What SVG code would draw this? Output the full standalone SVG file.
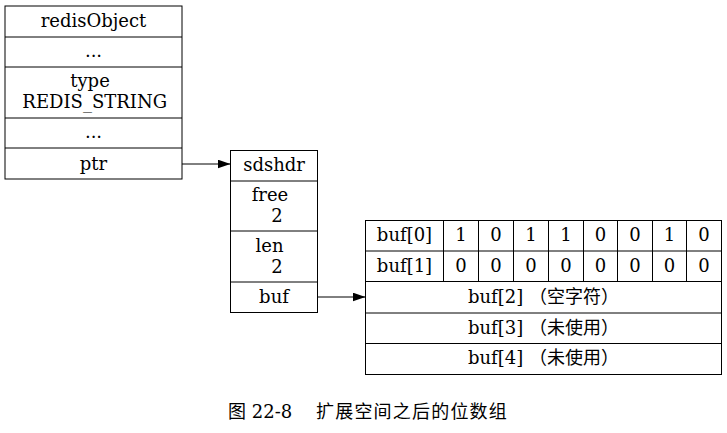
<svg xmlns="http://www.w3.org/2000/svg" width="727" height="433" viewBox="0 0 727 433">
<style>
.box{fill:#fff;stroke:#000;stroke-width:1}
.ln{stroke:#000;stroke-width:1;fill:none}
text{font-family:"DejaVu Serif","Noto Sans CJK SC",serif;font-size:18px;fill:#000}
.c{text-anchor:middle}
</style>
<defs>
<marker id="ah" viewBox="0 0 13 9" refX="13" refY="4.5" markerWidth="13" markerHeight="9" markerUnits="userSpaceOnUse" orient="auto">
<path d="M0,0 L13,4.5 L0,9 Z" fill="#000"/>
</marker>
</defs>
<rect width="727" height="433" fill="#fff"/>
<g id="redisObject">
<rect class="box" x="5" y="6" width="177" height="173"/>
<path class="ln" d="M5,37H182M5,67H182M5,118H182M5,148H182"/>
<text class="c" x="93.5" y="27">redisObject</text>
<text class="c" x="93.5" y="57">...</text>
<text class="c" x="90" y="87">type</text>
<text class="c" x="94.7" y="108">REDIS_STRING</text>
<text class="c" x="93.5" y="138">...</text>
<text class="c" x="93.5" y="169.5">ptr</text>
</g>
<g id="sdshdr">
<rect class="box" x="230.5" y="150.5" width="87" height="162"/>
<path class="ln" d="M230.5,181H317.5M230.5,231H317.5M230.5,282H317.5"/>
<text class="c" x="274" y="171">sdshdr</text>
<text class="c" x="270" y="201">free</text>
<text class="c" x="277" y="222">2</text>
<text class="c" x="269.5" y="251.5">len</text>
<text class="c" x="277" y="272.5">2</text>
<text class="c" x="274" y="303">buf</text>
</g>
<g id="buf">
<rect class="box" x="365.5" y="220.5" width="356" height="154"/>
<path class="ln" d="M365.5,251H721.5M365.5,281.5H721.5M365.5,313H721.5M365.5,343.5H721.5"/>
<path class="ln" d="M443.5,220.5V281.5M478.5,220.5V281.5M513.5,220.5V281.5M548.5,220.5V281.5M583.5,220.5V281.5M617.5,220.5V281.5M652.5,220.5V281.5M686.5,220.5V281.5"/>
<text class="c" x="404.5" y="241">buf[0]</text>
<text class="c" x="461" y="241">1</text>
<text class="c" x="496" y="241">0</text>
<text class="c" x="531" y="241">1</text>
<text class="c" x="566" y="241">1</text>
<text class="c" x="600.5" y="241">0</text>
<text class="c" x="635" y="241">0</text>
<text class="c" x="669.5" y="241">1</text>
<text class="c" x="704" y="241">0</text>
<text class="c" x="404.5" y="271.5">buf[1]</text>
<text class="c" x="461" y="271.5">0</text>
<text class="c" x="496" y="271.5">0</text>
<text class="c" x="531" y="271.5">0</text>
<text class="c" x="566" y="271.5">0</text>
<text class="c" x="600.5" y="271.5">0</text>
<text class="c" x="635" y="271.5">0</text>
<text class="c" x="669.5" y="271.5">0</text>
<text class="c" x="704" y="271.5">0</text>
<text class="c" x="543.5" y="302.5">buf[2] （空字符）</text>
<text class="c" x="543.5" y="333.5">buf[3] （未使用）</text>
<text class="c" x="543.5" y="364">buf[4] （未使用）</text>
</g>
<g id="connectors">
<path class="ln" d="M182,164H230.5" marker-end="url(#ah)"/>
<path class="ln" d="M317.5,297H365.5" marker-end="url(#ah)"/>
</g>
<g id="caption">
<text x="228" y="418">图 22-8</text>
<text x="316" y="418" letter-spacing="1.2">扩展空间之后的位数组</text>
</g>
</svg>
